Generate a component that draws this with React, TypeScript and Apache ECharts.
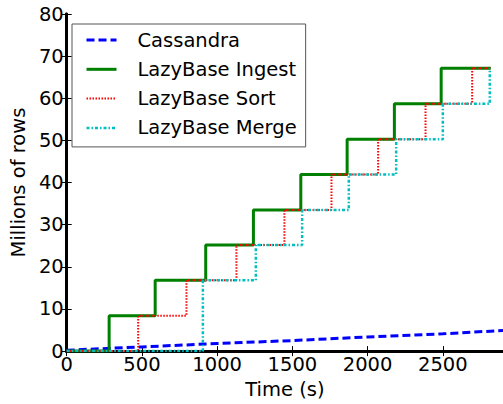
import React, { useEffect, useRef } from "react";
import * as echarts from "echarts";

const seriesNames = ["Cassandra", "LazyBase Ingest", "LazyBase Sort", "LazyBase Merge"];
const cassandraTime = [0, 500, 1000, 1500, 2000, 2500, 2900];
const cassandraRows = [0.2, 1.0, 1.8, 2.5, 3.35, 4.1, 4.9];
const ingestTime = [0, 282, 588, 924, 1241, 1556, 1864, 2178, 2489, 2819];
const ingestRows = [0, 8.4, 16.8, 25.2, 33.5, 41.9, 50.3, 58.7, 67.1, 67.1];
const sortTime = [0, 475, 796, 1128, 1447, 1760, 2070, 2385, 2695, 2819];
const sortRows = [0, 8.4, 16.8, 25.2, 33.5, 41.9, 50.3, 58.7, 67.1, 67.1];
const mergeTime = [0, 905, 1257, 1565, 1875, 2190, 2500, 2812];
const mergeRows = [0, 16.8, 25.2, 33.5, 41.9, 50.3, 58.7, 67.1];
const xTickLabels = [0, 500, 1000, 1500, 2000, 2500];
const yTickLabels = [0, 10, 20, 30, 40, 50, 60, 70, 80];

const FONT = "DejaVu Sans";
const FS = 19.5;

const zip = (xs: number[], ys: number[]) => xs.map((x, i) => [x, ys[i]]);

const styles = [
  { color: "#0000ff", width: 3, type: [8, 4] as any },
  { color: "#008000", width: 3, type: "solid" as any },
  { color: "#ff0000", width: 2, type: [1.5, 1.5] as any },
  { color: "#00bfbf", width: 2.5, type: [3, 2, 1.5, 2] as any },
];

export default function App() {
  const ref = useRef<HTMLDivElement>(null);
  useEffect(() => {
    if (!ref.current) return;
    const chart = echarts.init(ref.current, null, { renderer: "svg" });
    const datasets = [
      zip(cassandraTime, cassandraRows),
      zip(ingestTime, ingestRows),
      zip(sortTime, sortRows),
      zip(mergeTime, mergeRows),
    ];
    const axisLine = { show: true, lineStyle: { color: "#000", width: 3 } };
    const tick = { show: true, inside: true, length: 5, lineStyle: { color: "#000", width: 1 } };
    chart.setOption({
      animation: false,
      backgroundColor: "#fff",
      grid: { left: 62, top: 14, width: 445, height: 344, containLabel: false },
      legend: {
        orient: "vertical",
        left: 72,
        top: 24,
        padding: [5, 9, 8, 13],
        itemWidth: 30,
        itemHeight: 14,
        itemGap: 7.3,
        backgroundColor: "#fff",
        borderColor: "#555",
        borderWidth: 1,
        textStyle: { fontFamily: FONT, fontSize: FS, color: "#000", lineHeight: 22, padding: [0, 0, 0, 16] },
        data: seriesNames.map((n, i) => ({
          name: n,
          itemStyle: { opacity: 0 },
          lineStyle: { color: styles[i].color, width: styles[i].width, type: styles[i].type },
        })),
      },
      xAxis: [
        {
          type: "value",
          min: 0,
          max: 2900,
          interval: 500,
          position: "bottom",
          name: "Time (s)",
          nameLocation: "middle",
          nameGap: 24,
          nameTextStyle: { fontFamily: FONT, fontSize: FS, color: "#000" },
          axisLine,
          axisTick: tick,
          splitLine: { show: false },
          axisLabel: {
            fontFamily: FONT,
            fontSize: FS,
            color: "#000",
            margin: 3,
            showMaxLabel: false,
            formatter: (v: number) => (xTickLabels.includes(v) ? String(v) : ""),
          },
        },
        {
          type: "value",
          min: 0,
          max: 2900,
          interval: 500,
          position: "top",
          axisLine,
          axisTick: tick,
          splitLine: { show: false },
          axisLabel: { show: false },
        },
      ],
      yAxis: [
        {
          type: "value",
          min: 0,
          max: 80,
          interval: 10,
          position: "left",
          name: "Millions of rows",
          nameLocation: "middle",
          nameGap: 28,
          nameTextStyle: { fontFamily: FONT, fontSize: FS, color: "#000" },
          axisLine,
          axisTick: tick,
          splitLine: { show: false },
          axisLabel: {
            fontFamily: FONT,
            fontSize: FS,
            color: "#000",
            margin: 3,
            formatter: (v: number) => (yTickLabels.includes(v) ? String(v) : ""),
          },
        },
        {
          type: "value",
          min: 0,
          max: 80,
          interval: 10,
          position: "right",
          axisLine,
          axisTick: tick,
          splitLine: { show: false },
          axisLabel: { show: false },
        },
      ],
      series: seriesNames.map((n, i) => ({
        name: n,
        type: "line",
        xAxisIndex: 0,
        yAxisIndex: 0,
        step: i === 0 ? false : "end",
        symbol: "none",
        showSymbol: false,
        clip: true,
        lineStyle: { color: styles[i].color, width: styles[i].width, type: styles[i].type, cap: "butt" },
        itemStyle: { color: styles[i].color },
        data: datasets[i],
        z: 2 + i,
      })),
    });
    return () => chart.dispose();
  }, []);
  return (
    <div
      ref={ref}
      style={{ position: "fixed", left: 0, top: 0, width: 503, height: 404, background: "#fff" }}
    />
  );
}
